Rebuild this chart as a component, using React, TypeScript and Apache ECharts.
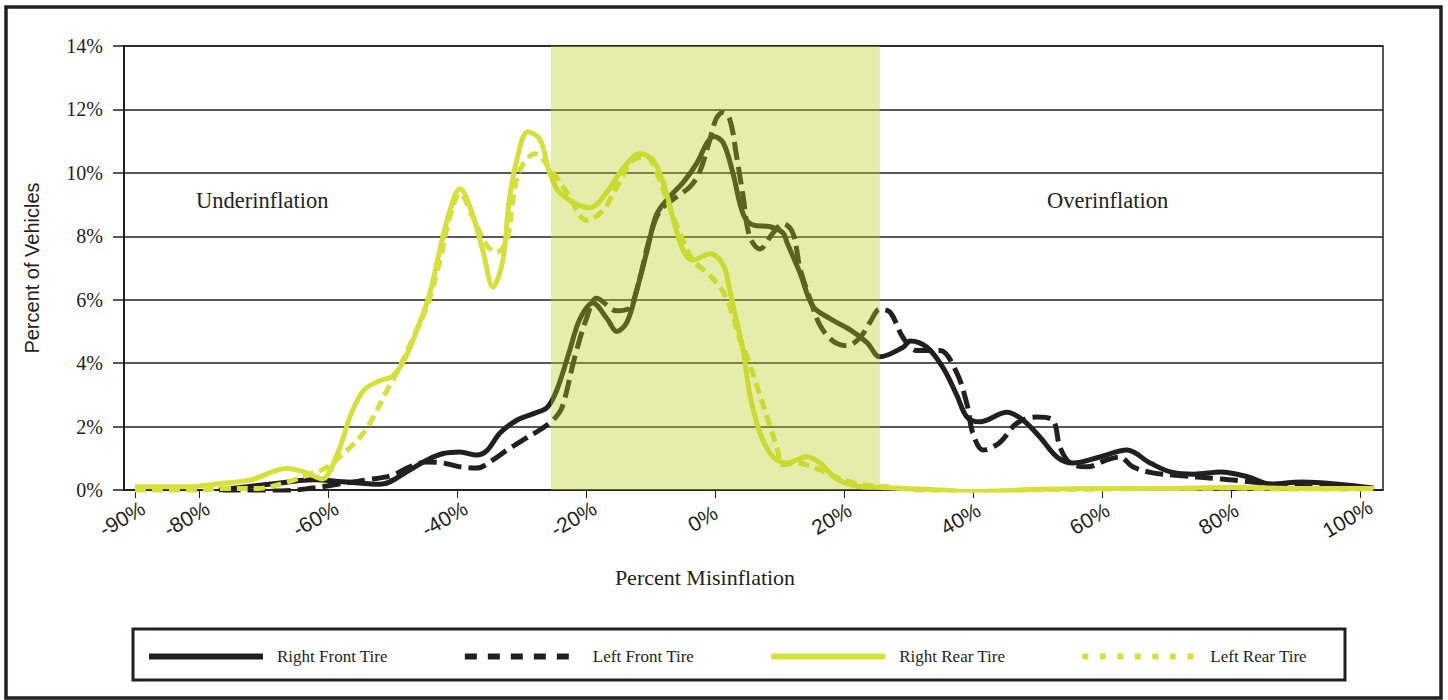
import React, { useEffect, useRef } from "react";
import * as echarts from "echarts";

const INK = "#231f20";
const GREEN = "#d5e13a";
const SHADE = "rgba(187,208,31,0.38)";

const seriesNames = ["Right Front Tire", "Left Front Tire", "Right Rear Tire", "Left Rear Tire"];
const xTickValues = [-90, -80, -60, -40, -20, 0, 20, 40, 60, 80, 100];
const shadeRange = [-25.5, 25.5];
const regionLabels = ["Underinflation", "Overinflation"];

const rightFront = [
  [-77, 0], [-72.6, 0.1], [-67.5, 0.22], [-62.4, 0.32], [-57.1, 0.25], [-52, 0.18], [-47.4, 0.63],
  [-44.7, 0.95], [-42.2, 1.15], [-39.6, 1.2], [-37, 1.1], [-35.4, 1.25], [-33.4, 1.8], [-30.8, 2.2],
  [-28.3, 2.4], [-26.1, 2.6], [-24.6, 3.15], [-22.6, 4.4], [-21, 5.4], [-19, 5.9], [-16.8, 5.4],
  [-15.3, 5.0], [-13.7, 5.3], [-12.2, 6.3], [-10.6, 7.55], [-9.1, 8.7], [-7.1, 9.25], [-5, 9.7],
  [-2.9, 10.3], [-1.3, 10.95], [-0.3, 11.15], [1.2, 10.95], [2.7, 10.0], [4.3, 8.7], [5.9, 8.35],
  [8.5, 8.3], [10.5, 8.1], [11.1, 7.8], [13.1, 6.85], [15.1, 5.8], [17.8, 5.4], [20.9, 5.05],
  [23.5, 4.65], [25.5, 4.2], [29.1, 4.5], [30.2, 4.7], [32.8, 4.5], [35.3, 3.85], [37.4, 3.0],
  [39, 2.3], [41, 2.15], [45.2, 2.45], [47.7, 2.2], [50.3, 1.67], [52.9, 1.05], [55.4, 0.85],
  [59.6, 1.04], [63.8, 1.26], [67.4, 0.85], [70.9, 0.55], [74.2, 0.5], [78.4, 0.57], [82.6, 0.41],
  [86.1, 0.19], [90.9, 0.25], [96.2, 0.19], [102, 0.06],
];

const leftFront = [
  [-76.4, -0.03], [-67.5, -0.03], [-62.4, 0.06], [-59.3, 0.16], [-54, 0.32], [-50, 0.47], [-47.4, 0.73],
  [-44.7, 0.88], [-42.2, 0.85], [-39.6, 0.73], [-37, 0.69], [-34.5, 0.95], [-32.3, 1.26], [-29.8, 1.58],
  [-27.2, 1.9], [-25.2, 2.2], [-23.8, 2.6], [-21.8, 4.2], [-20, 5.4], [-18.4, 6.05], [-15.3, 5.65],
  [-13.3, 5.75], [-11.7, 6.7], [-10.2, 7.95], [-8.6, 8.8], [-6, 9.25], [-4, 9.55], [-2.5, 10.0],
  [-1, 10.95], [0.1, 11.7], [1.1, 11.9], [2.2, 11.7], [3.3, 10.5], [4.3, 9.25], [5.3, 8.0], [6.9, 7.6],
  [8.9, 8.1], [10.5, 8.4], [12, 8.1], [13.1, 7.0], [14.7, 6.0], [16.2, 5.2], [18.2, 4.7], [20.4, 4.55],
  [22.4, 4.8], [24, 5.3], [25.5, 5.7], [27.1, 5.6], [29.1, 4.8], [31.2, 4.4], [34.8, 4.4], [37.4, 3.7],
  [39, 2.7], [39.9, 1.8], [41.5, 1.26], [44.1, 1.5], [46.7, 2.1], [49.8, 2.3], [52.3, 2.2], [53.4, 1.36],
  [55, 0.85], [57.6, 0.73], [60.7, 0.95], [62.7, 1.04], [64.7, 0.73], [67.8, 0.54], [70.9, 0.47],
  [78.4, 0.35], [81.9, 0.28], [86.1, 0.19], [92, 0.1], [101.8, 0.05],
];

const rightRear = [
  [-90, 0.1], [-82, 0.1], [-77, 0.2], [-72, 0.32], [-66.5, 0.68], [-63.5, 0.55], [-61, 0.35],
  [-58.5, 1.2], [-56.5, 2.4], [-54.5, 3.15], [-52, 3.45], [-50, 3.6], [-48, 4.2], [-46, 5.2],
  [-44.3, 6.2], [-42.7, 7.6], [-41.2, 8.8], [-39.6, 9.5], [-38, 8.9], [-36, 7.5], [-34.5, 6.4],
  [-33, 7.2], [-32, 9.1], [-30.8, 10.4], [-29.1, 11.3], [-27.2, 11.05], [-25.7, 10.0], [-24, 9.35],
  [-19.5, 8.9], [-16.8, 9.4], [-14.3, 10.15], [-11.7, 10.6], [-9.7, 10.4], [-8.1, 9.7], [-6.6, 8.6],
  [-5, 7.55], [-3.5, 7.25], [-0.8, 7.45], [1.2, 7.1], [2.2, 6.3], [3.3, 5.3], [4.3, 4.4], [5.3, 3.05],
  [6.9, 1.8], [8.9, 1.05], [11.1, 0.85], [14.2, 1.05], [16.2, 0.85], [18.8, 0.35], [22, 0.12],
  [25.5, 0.08], [35, 0.0], [40, -0.05], [50, 0.02], [60, 0.05], [70, 0.05], [80, 0.08], [90, 0.05],
  [102, 0.05],
];

const leftRear = [
  [-90, -0.05], [-82, -0.05], [-76, 0.05], [-71, 0.05], [-66.4, 0.25], [-63.3, 0.47], [-60.2, 0.72],
  [-57.1, 1.26], [-55.1, 1.67], [-53.6, 2.1], [-50.9, 3.15], [-48.9, 3.9], [-46.9, 4.8], [-44.7, 5.8],
  [-42.7, 7.25], [-41.2, 8.6], [-39.6, 9.35], [-37.6, 8.6], [-35.4, 7.7], [-33.9, 7.5], [-32.3, 7.9],
  [-31.4, 9.15], [-30.3, 10.1], [-28, 10.6], [-25.2, 10.0], [-23, 9.37], [-19.9, 8.5], [-17.4, 8.83],
  [-15.3, 9.55], [-12.8, 10.4], [-10.6, 10.5], [-9.1, 10.0], [-7.1, 8.93], [-5.5, 8.1], [-3.5, 7.25],
  [-1.3, 6.85], [0.7, 6.4], [2.2, 5.8], [3.8, 4.73], [4.9, 4.2], [6.4, 3.3], [8, 2.3], [9.5, 1.36],
  [10.5, 0.8], [12.6, 0.85], [15.1, 0.73], [17.3, 0.54], [19.8, 0.32], [22.9, 0.16], [26.6, 0.1],
  [31.2, 0.0], [40, -0.05], [50, 0.0], [60, 0.03], [70, 0.05], [80, 0.06], [90, 0.03], [101.8, 0.03],
];

export default function App() {
  const ref = useRef<HTMLDivElement>(null);

  useEffect(() => {
    const chart = echarts.init(ref.current!, null, { renderer: "svg" });
    const lineSeries = (name: string, data: number[][], color: string, type: any) => ({
      name,
      type: "line",
      data,
      smooth: 0.35,
      symbol: "none",
      showSymbol: false,
      itemStyle: { color },
      lineStyle: { color, width: 5, type, cap: "butt" },
      emphasis: { disabled: true },
      silent: true,
    });
    const s3 = lineSeries(seriesNames[3], leftRear, GREEN, [11, 6]) as any;
    s3.markArea = {
      silent: true,
      z: 10,
      itemStyle: { color: SHADE },
      data: [[{ xAxis: shadeRange[0], yAxis: 0 }, { xAxis: shadeRange[1], yAxis: 14 }]],
    };
    const hiddenSymbol = { opacity: 0, color: "rgba(0,0,0,0)", borderWidth: 0 };
    chart.setOption({
      animation: false,
      backgroundColor: "#ffffff",
      grid: {
        left: 124, right: 65, top: 46, bottom: 210,
        show: true, borderColor: INK, borderWidth: 1.5, backgroundColor: "transparent",
      },
      xAxis: {
        type: "value",
        min: -91.7,
        max: 103.5,
        axisLine: { show: true, onZero: false, lineStyle: { color: INK, width: 1.5 } },
        axisTick: { show: true, customValues: xTickValues, length: 8, lineStyle: { color: INK, width: 1 } },
        axisLabel: {
          customValues: xTickValues,
          rotate: 30,
          margin: 9,
          align: "center",
          verticalAlign: "top",
          padding: [0, 42, 0, 0],
          formatter: (v: number) => `${v}%`,
          color: INK,
          fontFamily: "Liberation Sans",
          fontSize: 21,
        },
        splitLine: { show: false },
        name: "Percent Misinflation",
        nameLocation: "middle",
        nameGap: 76,
        nameTextStyle: { fontFamily: "Liberation Serif", fontSize: 22, color: INK, padding: [0, 97, 0, 0] },
      },
      yAxis: {
        type: "value",
        min: 0,
        max: 14,
        interval: 2,
        axisLine: { show: true, onZero: false, lineStyle: { color: INK, width: 2 } },
        axisTick: { show: true, length: 11, lineStyle: { color: INK, width: 1.5 } },
        axisLabel: {
          formatter: "{value}%",
          margin: 21,
          color: INK,
          fontFamily: "Liberation Serif",
          fontSize: 20,
        },
        splitLine: { show: true, lineStyle: { color: INK, width: 1.5 } },
        name: "Percent of Vehicles",
        nameLocation: "middle",
        nameGap: 82,
        nameTextStyle: { fontFamily: "Liberation Sans", fontSize: 20, color: INK },
      },
      legend: {
        left: 141,
        top: 643,
        itemWidth: 114,
        itemHeight: 14,
        itemGap: 74,
        selectedMode: false,
        textStyle: { fontFamily: "Liberation Serif", fontSize: 17, color: INK, padding: [0, 0, 0, 9] },
        data: [
          { name: seriesNames[0], itemStyle: hiddenSymbol, lineStyle: { width: 6, type: "solid" } },
          { name: seriesNames[1], itemStyle: hiddenSymbol, lineStyle: { width: 6, type: [12, 11] } },
          { name: seriesNames[2], itemStyle: hiddenSymbol, lineStyle: { width: 6, type: "solid" } },
          { name: seriesNames[3], itemStyle: hiddenSymbol, lineStyle: { width: 6, type: [6, 11.5] } },
        ],
      },
      graphic: [
        {
          type: "rect",
          shape: { x: 6, y: 7, width: 1435, height: 691 },
          style: { fill: "none", stroke: INK, lineWidth: 3.5 },
          silent: true,
        },
        {
          type: "rect",
          shape: { x: 133, y: 629, width: 1212, height: 51 },
          style: { fill: "none", stroke: INK, lineWidth: 3 },
          silent: true,
        },
        {
          type: "text",
          x: 196,
          y: 200,
          style: { text: regionLabels[0], fill: INK, fontFamily: "Liberation Serif", fontSize: 22.5, verticalAlign: "middle" },
          silent: true,
        },
        {
          type: "text",
          x: 1047,
          y: 200,
          style: { text: regionLabels[1], fill: INK, fontFamily: "Liberation Serif", fontSize: 22.5, verticalAlign: "middle" },
          silent: true,
        },
      ],
      series: [
        lineSeries(seriesNames[0], rightFront, INK, "solid"),
        lineSeries(seriesNames[1], leftFront, INK, [18, 7]),
        lineSeries(seriesNames[2], rightRear, GREEN, "solid"),
        s3,
      ],
    });
    return () => chart.dispose();
  }, []);

  return (
    <div
      ref={ref}
      style={{ position: "fixed", left: 0, top: 0, width: 1448, height: 700, background: "#fff" }}
    />
  );
}
